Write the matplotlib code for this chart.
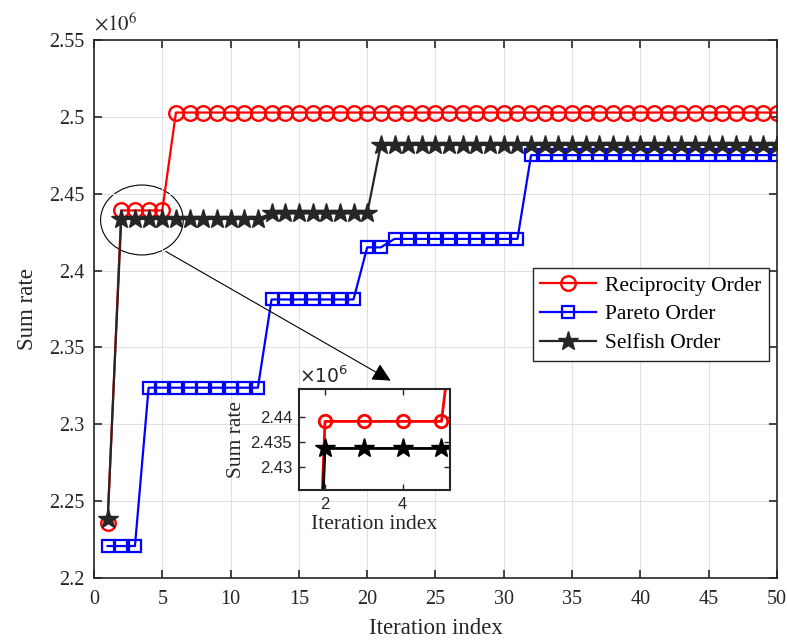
import matplotlib
matplotlib.use('Agg')
import matplotlib.pyplot as plt
from matplotlib.patches import Ellipse
from matplotlib.ticker import FormatStrFormatter
import numpy as np

plt.rcParams['font.family'] = ['Liberation Serif', 'DejaVu Serif']
plt.rcParams['mathtext.fontset'] = 'stix'

# iteration index 1..50, sum rate in units of 1e6
iters = np.arange(1, 51)
recip = [2.2359] + [2.4391] * 4 + [2.5028] * 45
pareto = [2.2208] * 3 + [2.3238] * 9 + [2.3812] * 7 + [2.4151] * 2 + [2.4206] * 10 + [2.4751] * 19
selfish = [2.2381] + [2.4337] * 11 + [2.4372] * 8 + [2.4818] * 30

red = '#ff0000'
blue = '#0000ff'
dark = '#262626'
sans = ['Liberation Sans', 'DejaVu Sans']

fig = plt.figure(figsize=(7.87, 6.43), dpi=100)
ax = fig.add_axes([0.1194, 0.1011, 0.8679, 0.8367])

ax.plot(iters, recip, color=red, lw=1.6, marker='o', ms=10.5, mfc='none', mew=1.7,
        label='Reciprocity Order')
ax.plot(iters, pareto, color=blue, lw=1.6, marker='s', ms=8, mfc='none', mew=1.6,
        label='Pareto Order')
ax.plot(iters, selfish, color=dark, lw=1.6, marker='*', ms=15, mfc=dark, mec=dark,
        label='Selfish Order')

ax.set_xlim(0, 50)
ax.set_ylim(2.2, 2.55)
ax.set_xticks(np.arange(0, 51, 5))
ax.set_yticks(np.arange(2.2, 2.551, 0.05))
ax.yaxis.set_major_formatter(FormatStrFormatter('%g'))
ax.grid(True, color='#e0e0e0', lw=0.8)
ax.tick_params(direction='in', top=True, right=True, labelsize=14.5, length=6, width=1.2,
               colors=dark, pad=7)
ax.tick_params(axis='x', pad=9)
for s in ax.spines.values():
    s.set_linewidth(1.2)
    s.set_color(dark)
ax.set_xlabel('Iteration index', fontsize=16.5, color=dark, labelpad=6)
ax.set_ylabel('Sum rate', fontsize=16.5, color=dark, labelpad=8)
ax.text(0.0, 1.008, r'$\times10^{6}$', transform=ax.transAxes, fontsize=15,
        color=dark, ha='left', va='bottom')

leg = ax.legend(loc='upper right', bbox_to_anchor=(0.988, 0.576), borderaxespad=0,
                fontsize=15.5, fancybox=False, edgecolor=dark, framealpha=1,
                handlelength=2.6, borderpad=0.35, labelspacing=0.4, handletextpad=0.4)
leg.get_frame().set_linewidth(1.0)

# zoom ellipse and arrow
ax.add_patch(Ellipse((3.51, 2.4329), 6.05, 0.0455, fill=False, ec='black', lw=0.8))
ax.annotate('', xy=(21.9, 2.3275), xytext=(5.07, 2.4134),
            arrowprops=dict(arrowstyle='-|>', color='black', lw=0.8,
                            mutation_scale=28))

# inset
ins = fig.add_axes([0.3799, 0.2379, 0.1919, 0.1566])
ins.plot(iters, recip, color=red, lw=2.0, marker='o', ms=9, mfc='none', mew=2.0)
ins.plot(iters, pareto, color=blue, lw=2.0, marker='s', ms=7, mfc='none', mew=2.0)
ins.plot(iters, selfish, color='black', lw=2.0, marker='*', ms=15, mfc='black', mec='black')
ins.set_xlim(1.33, 5.22)
ins.set_ylim(2.4254, 2.4455)
ins.set_xticks([2, 4])
ins.set_yticks([2.43, 2.435, 2.44])
ins.yaxis.set_major_formatter(FormatStrFormatter('%g'))
ins.tick_params(direction='in', top=True, right=True, length=4, width=1.0,
                colors=dark, pad=5)
for lab in ins.get_xticklabels() + ins.get_yticklabels():
    lab.set_family(sans)
    lab.set_fontsize(12)
for s in ins.spines.values():
    s.set_linewidth(1.5)
    s.set_color(dark)
ins.set_xlabel('Iteration index', fontsize=15.5, color=dark, labelpad=2)
ins.set_ylabel('Sum rate', fontsize=15.5, color=dark, labelpad=3)
ins.text(0.0, 1.02, r'$\times10^{6}$', transform=ins.transAxes, fontsize=13.5,
         family=sans, math_fontfamily='dejavusans', color=dark, ha='left', va='bottom')

fig.savefig('out.png', dpi=100)
